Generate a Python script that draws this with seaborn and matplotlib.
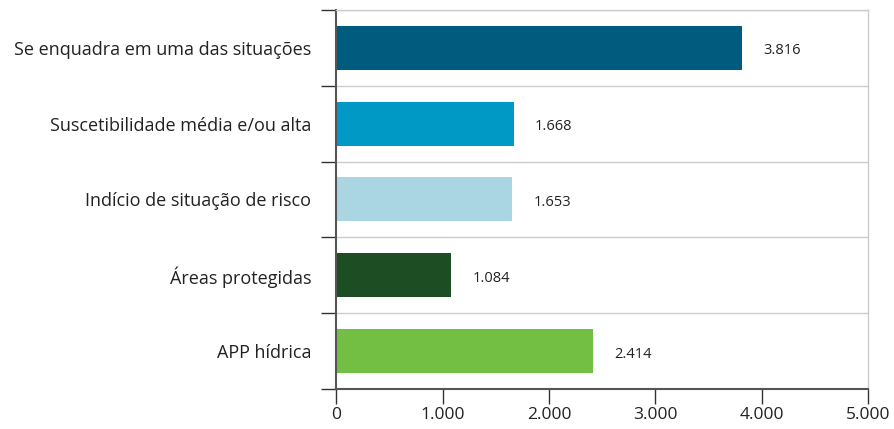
import numpy as np
import pandas as pd
import seaborn as sns
from matplotlib import pyplot as plt
from matplotlib.ticker import FuncFormatter, FixedLocator

categories = [
    "Se enquadra em uma das situações",
    "Suscetibilidade média e/ou alta",
    "Indício de situação de risco",
    "Áreas protegidas",
    "APP hídrica",
]
values = [3816, 1668, 1653, 1084, 2414]
colors = ["#005b7f", "#0099c6", "#aad5e3", "#1d4d22", "#72bf44"]
x_ticks = [0, 1000, 2000, 3000, 4000, 5000]


def br_thousands(v, pos=None):
    return f"{int(v):,}".replace(",", ".")


df = pd.DataFrame({"categoria": categories, "valor": values})

sns.set_style("white")
plt.rcParams["font.family"] = ["Open Sans", "DejaVu Sans"]

fig, ax = plt.subplots(figsize=(8.94, 4.29), dpi=100)
fig.subplots_adjust(left=0.376, right=0.971, top=0.977, bottom=0.093)

sns.barplot(data=df, x="valor", y="categoria", hue="categoria", palette=colors,
            legend=False, width=0.58, saturation=1, linewidth=0, ax=ax)

for i, v in enumerate(values):
    ax.text(v + 200, i + 0.04, br_thousands(v), va="center", ha="left",
            fontsize=10.5, color="#222222")

ax.set_xlim(0, 5000)
ax.set_ylim(4.5, -0.5)
ax.set_xlabel("")
ax.set_ylabel("")
ax.xaxis.set_major_locator(FixedLocator(x_ticks))
ax.xaxis.set_major_formatter(FuncFormatter(br_thousands))
ax.tick_params(axis="x", length=11, width=1, color="#333333", labelsize=12.5,
               labelcolor="#222222", pad=2, direction="out", bottom=True)
ax.tick_params(axis="y", which="major", length=0, labelsize=13,
               labelcolor="#222222", pad=18)
ax.yaxis.set_minor_locator(FixedLocator(np.arange(-0.5, 5, 1)))
ax.tick_params(axis="y", which="minor", length=11, width=1, color="#333333",
               direction="out", left=True)
ax.grid(axis="y", which="minor", color="#cccccc", linewidth=1)
ax.grid(axis="y", which="major", visible=False)
ax.set_axisbelow(True)

for side in ["left", "bottom"]:
    ax.spines[side].set_color("#555555")
    ax.spines[side].set_linewidth(1.5)
for side in ["top", "right"]:
    ax.spines[side].set_color("#cccccc")
    ax.spines[side].set_linewidth(1)

plt.savefig("out.png", dpi=100)
